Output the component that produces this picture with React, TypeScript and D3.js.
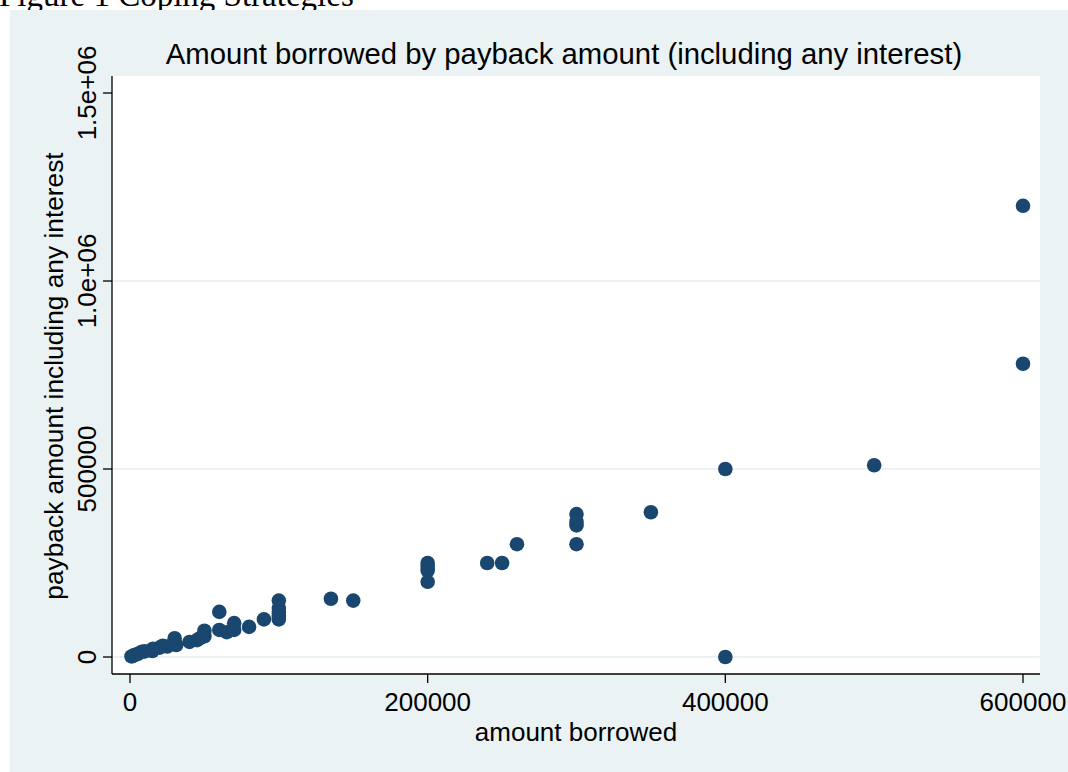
import * as React from 'react';
import {scaleLinear} from 'd3';

// amount borrowed / payback amount pairs
const borrowed = [
  600000, 600000, 500000, 400000, 400000, 350000,
  300000, 300000, 300000, 300000, 260000, 250000, 240000,
  200000, 200000, 200000, 200000, 150000, 135000,
  100000, 100000, 100000, 100000, 100000, 90000, 80000,
  70000, 70000, 65000, 60000, 60000, 50000, 50000, 47000,
  45000, 40000, 31000, 30000, 30000, 25000, 22000, 20000,
  15500, 15000, 10000, 8000, 5000, 3000, 2000, 1000,
];
const payback = [
  1200000, 780000, 510000, 500000, 0, 385000,
  380000, 360000, 350000, 300000, 300000, 250000, 250000,
  250000, 240000, 230000, 200000, 150000, 155000,
  150000, 130000, 120000, 110000, 100000, 100000, 80000,
  90000, 72000, 66000, 120000, 72000, 70000, 55000, 50000,
  45000, 40000, 32000, 50000, 35000, 28000, 30000, 25000,
  22000, 16000, 15000, 14000, 8000, 5000, 3000, 1500,
];

const yTicks = [0, 500000, 1000000, 1500000];
const yTickLabels = ['0', '500000', '1.0e+06', '1.5e+06'];
const yGrid = [0, 500000, 1000000];
const xTicks = [0, 200000, 400000, 600000];
const xTickLabels = ['0', '200000', '400000', '600000'];

const NAVY = '#1a476f';
const BG = '#eaf2f3';
const FONT = '"Liberation Sans", Arial, Helvetica, sans-serif';

export default function App() {
  const width = 1068;
  const height = 772;
  const plot = {left: 112, right: 1040, top: 76, bottom: 674};

  const x = scaleLinear().domain([0, 600000]).range([130, 1023]);
  const y = scaleLinear().domain([0, 1500000]).range([657, 93]);

  return <div>
    <style>{'body{margin:0}'}</style>
    <svg width={width} height={height} style={{display: 'block'}}>
      <rect x={0} y={0} width={width} height={height} fill="#fff" />
      <text x={-1} y={6} fontFamily='"Liberation Serif", "Times New Roman", serif'
        fontSize={33} fill="#000">Figure 1 Coping Strategies</text>
      <rect x={10} y={10} width={width - 10} height={height - 10} fill={BG} />
      <rect x={plot.left} y={plot.top} width={plot.right - plot.left}
        height={plot.bottom - plot.top} fill="#fff" />

      {yGrid.map((v) =>
        <line key={'g' + v} x1={plot.left} x2={plot.right} y1={y(v)} y2={y(v)}
          stroke={BG} strokeWidth={2} />)}

      {borrowed.map((b, i) =>
        <circle key={i} cx={x(b)} cy={y(payback[i])} r={7.3} fill={NAVY} />)}

      {/* axes */}
      <line x1={plot.left} x2={plot.left} y1={plot.top} y2={plot.bottom}
        stroke="#000" strokeWidth={1.3} />
      <line x1={plot.left} x2={plot.right} y1={plot.bottom} y2={plot.bottom}
        stroke="#000" strokeWidth={1.3} />

      {yTicks.map((v, i) => <g key={'y' + v}>
        <line x1={plot.left - 9} x2={plot.left} y1={y(v)} y2={y(v)} stroke="#000" strokeWidth={1.3} />
        <text transform={`translate(96, ${y(v)}) rotate(-90)`} textAnchor="middle"
          fontFamily={FONT} fontSize={26} fill="#000">{yTickLabels[i]}</text>
      </g>)}

      {xTicks.map((v, i) => <g key={'x' + v}>
        <line x1={x(v)} x2={x(v)} y1={plot.bottom} y2={plot.bottom + 9} stroke="#000" strokeWidth={1.3} />
        <text x={x(v)} y={711} textAnchor="middle"
          fontFamily={FONT} fontSize={26} fill="#000">{xTickLabels[i]}</text>
      </g>)}

      <text x={576} y={741} textAnchor="middle" fontFamily={FONT} fontSize={26}
        fill="#000">amount borrowed</text>
      <text transform="translate(63, 376) rotate(-90)" textAnchor="middle"
        fontFamily={FONT} fontSize={26.3} fill="#000">payback amount including any interest</text>
      <text x={564} y={64} textAnchor="middle" fontFamily={FONT} fontSize={29.3}
        fill="#000">Amount borrowed by payback amount (including any interest)</text>
    </svg>
  </div>;
}
